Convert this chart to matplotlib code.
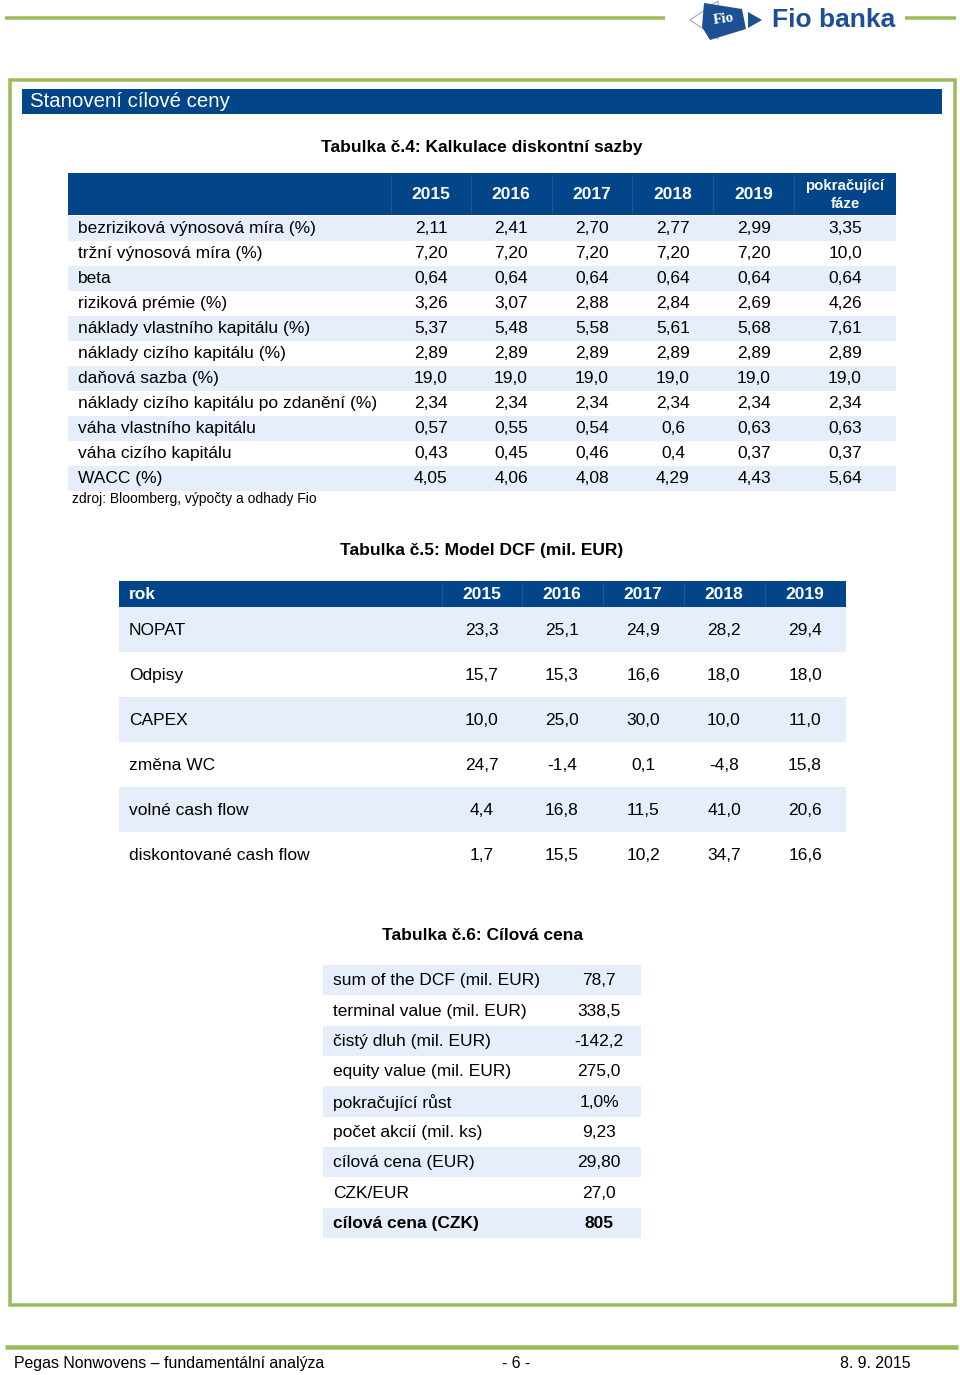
import matplotlib
matplotlib.use("Agg")
import matplotlib.pyplot as plt
from matplotlib.patches import Rectangle, Polygon

plt.rcParams['font.family'] = ['Liberation Sans', 'DejaVu Sans']

# ---------------- data ----------------
years = ["2015", "2016", "2017", "2018", "2019"]
t4_last_col = ["pokračující", "fáze"]
t4_labels = ["bezriziková výnosová míra (%)", "tržní výnosová míra (%)", "beta",
             "riziková prémie (%)", "náklady vlastního kapitálu (%)",
             "náklady cizího kapitálu (%)", "daňová sazba (%)",
             "náklady cizího kapitálu po zdanění (%)", "váha vlastního kapitálu",
             "váha cizího kapitálu", "WACC (%)"]
t4_values = [
    ["2,11", "2,41", "2,70", "2,77", "2,99", "3,35"],
    ["7,20", "7,20", "7,20", "7,20", "7,20", "10,0"],
    ["0,64", "0,64", "0,64", "0,64", "0,64", "0,64"],
    ["3,26", "3,07", "2,88", "2,84", "2,69", "4,26"],
    ["5,37", "5,48", "5,58", "5,61", "5,68", "7,61"],
    ["2,89", "2,89", "2,89", "2,89", "2,89", "2,89"],
    ["19,0", "19,0", "19,0", "19,0", "19,0", "19,0"],
    ["2,34", "2,34", "2,34", "2,34", "2,34", "2,34"],
    ["0,57", "0,55", "0,54", "0,6", "0,63", "0,63"],
    ["0,43", "0,45", "0,46", "0,4", "0,37", "0,37"],
    ["4,05", "4,06", "4,08", "4,29", "4,43", "5,64"],
]
t5_labels = ["NOPAT", "Odpisy", "CAPEX", "změna WC", "volné cash flow",
             "diskontované cash flow"]
t5_values = [
    ["23,3", "25,1", "24,9", "28,2", "29,4"],
    ["15,7", "15,3", "16,6", "18,0", "18,0"],
    ["10,0", "25,0", "30,0", "10,0", "11,0"],
    ["24,7", "-1,4", "0,1", "-4,8", "15,8"],
    ["4,4", "16,8", "11,5", "41,0", "20,6"],
    ["1,7", "15,5", "10,2", "34,7", "16,6"],
]
t6_labels = ["sum of the DCF (mil. EUR)", "terminal value (mil. EUR)",
             "čistý dluh (mil. EUR)", "equity value (mil. EUR)",
             "pokračující růst", "počet akcií (mil. ks)", "cílová cena (EUR)",
             "CZK/EUR", "cílová cena (CZK)"]
t6_values = ["78,7", "338,5", "-142,2", "275,0", "1,0%", "9,23", "29,80",
             "27,0", "805"]

# ---------------- styles ----------------
GREEN = "#9bbb59"
BLUE = "#024689"
SEP = "#1d5694"
LIGHT = "#e5eefa"
LOGO = "#1d4f93"
FS = 12.5
TFS = 12.5

fig = plt.figure(figsize=(9.6, 13.75), dpi=100)
ax = fig.add_axes([0, 0, 1, 1])
ax.set_xlim(0, 960)
ax.set_ylim(1375, 0)
ax.axis("off")


def rect(x0, y0, x1, y1, color, **kw):
    ax.add_patch(Rectangle((x0, y0), x1 - x0, y1 - y0, facecolor=color,
                           edgecolor="none", **kw))


def px(v):
    return v * 72 / 100


# ---------------- page header ----------------
ax.plot([5, 665], [18, 18], color=GREEN, lw=px(3.5), solid_capstyle="butt")
ax.plot([905, 956], [18, 18], color=GREEN, lw=px(3.5), solid_capstyle="butt")
# logo
ax.add_patch(Polygon([(690, 20), (718, 1), (718, 39)], closed=True,
                     facecolor="white", edgecolor="#9aa8bd", lw=0.8))
ax.add_patch(Polygon([(704, 3), (742, 9), (746, 29), (710, 40), (702, 27)],
                     closed=True, facecolor=LOGO, edgecolor="none"))
ax.add_patch(Polygon([(748, 12), (762, 20), (748, 28)], closed=True,
                     facecolor=LOGO, edgecolor="none"))
ax.text(724, 19, "Fio", color="white", fontsize=11, fontweight="bold",
        family=["Liberation Serif", "DejaVu Serif"], ha="center", va="center",
        rotation=8)
ax.text(772, 20, "Fio banka", color=LOGO, fontsize=19, fontweight="bold",
        ha="left", va="center")

# ---------------- frame ----------------
ax.add_patch(Rectangle((10, 80), 945, 1225, facecolor="none", edgecolor=GREEN,
                       lw=px(3.5)))
rect(22, 89, 942, 113.5, BLUE)
ax.text(30, 101.5, "Stanovení cílové ceny", color="white", fontsize=14.7,
        ha="left", va="center")

# ---------------- table 4 ----------------
ax.text(482, 147, "Tabulka č.4: Kalkulace diskontní sazby", fontsize=TFS,
        fontweight="bold", ha="center", va="center")
t4_x0, t4_x1 = 68, 896
t4_cols = [431, 511, 592, 673, 754, 845]
rect(t4_x0, 173, t4_x1, 214.5, BLUE)
for sx in [391, 471, 552, 632, 713, 794]:
    ax.plot([sx, sx], [175, 213], color=SEP, lw=0.8)
for cx, y in zip(t4_cols[:5], years):
    ax.text(cx, 194.5, y, color="white", fontsize=FS, fontweight="bold",
            ha="center", va="center")
ax.text(t4_cols[5], 185.5, t4_last_col[0], color="white", fontsize=10.8,
        fontweight="bold", ha="center", va="center")
ax.text(t4_cols[5], 203.5, t4_last_col[1], color="white", fontsize=10.8,
        fontweight="bold", ha="center", va="center")
for i, (lab, vals) in enumerate(zip(t4_labels, t4_values)):
    y0 = 215.5 + 25 * i
    yc = y0 + 13
    if i % 2 == 0:
        rect(t4_x0, y0, t4_x1, y0 + 25, LIGHT)
    ax.text(78, yc, lab, fontsize=FS, ha="left", va="center")
    for cx, v in zip(t4_cols, vals):
        ax.text(cx, yc, v, fontsize=FS, ha="center", va="center")
ax.text(72, 499, "zdroj: Bloomberg, výpočty a odhady Fio", fontsize=10,
        ha="left", va="center")

# ---------------- table 5 ----------------
ax.text(482, 550, "Tabulka č.5: Model DCF (mil. EUR)", fontsize=TFS,
        fontweight="bold", ha="center", va="center")
t5_x0, t5_x1 = 119, 846
t5_cols = [482, 562, 643, 724, 805]
rect(t5_x0, 581, t5_x1, 606.5, BLUE)
for sx in [442, 522, 603, 684, 765]:
    ax.plot([sx, sx], [583, 605], color=SEP, lw=0.8)
ax.text(129, 594, "rok", color="white", fontsize=FS, fontweight="bold",
        ha="left", va="center")
for cx, y in zip(t5_cols, years):
    ax.text(cx, 594, y, color="white", fontsize=FS, fontweight="bold",
            ha="center", va="center")
for i, (lab, vals) in enumerate(zip(t5_labels, t5_values)):
    y0 = 607 + 45 * i
    yc = y0 + 23
    if i % 2 == 0:
        rect(t5_x0, y0, t5_x1, y0 + 45, LIGHT)
    ax.text(129, yc, lab, fontsize=FS, ha="left", va="center")
    for cx, v in zip(t5_cols, vals):
        ax.text(cx, yc, v, fontsize=FS, ha="center", va="center")

# ---------------- table 6 ----------------
ax.text(482, 935, "Tabulka č.6: Cílová cena", fontsize=TFS,
        fontweight="bold", ha="center", va="center")
t6_x0, t6_x1 = 323, 641
rh = 30.35
for i, (lab, v) in enumerate(zip(t6_labels, t6_values)):
    y0 = 965 + rh * i
    yc = y0 + rh / 2 + 0.5
    if i % 2 == 0:
        rect(t6_x0, y0, t6_x1, y0 + rh, LIGHT)
    bold = "bold" if i == len(t6_labels) - 1 else "normal"
    ax.text(333, yc, lab, fontsize=FS, ha="left", va="center", fontweight=bold)
    ax.text(599, yc, v, fontsize=FS, ha="center", va="center", fontweight=bold)

# ---------------- footer ----------------
ax.plot([5, 958], [1347, 1347], color=GREEN, lw=px(4.5), solid_capstyle="butt")
ax.text(14, 1363.5, "Pegas Nonwovens – fundamentální analýza", fontsize=11.4,
        ha="left", va="center")
ax.text(516, 1363.5, "- 6 -", fontsize=11.4, ha="center", va="center")
ax.text(910, 1363.5, "8. 9. 2015", fontsize=11.4, ha="right", va="center")

fig.savefig("out.png", dpi=100)
